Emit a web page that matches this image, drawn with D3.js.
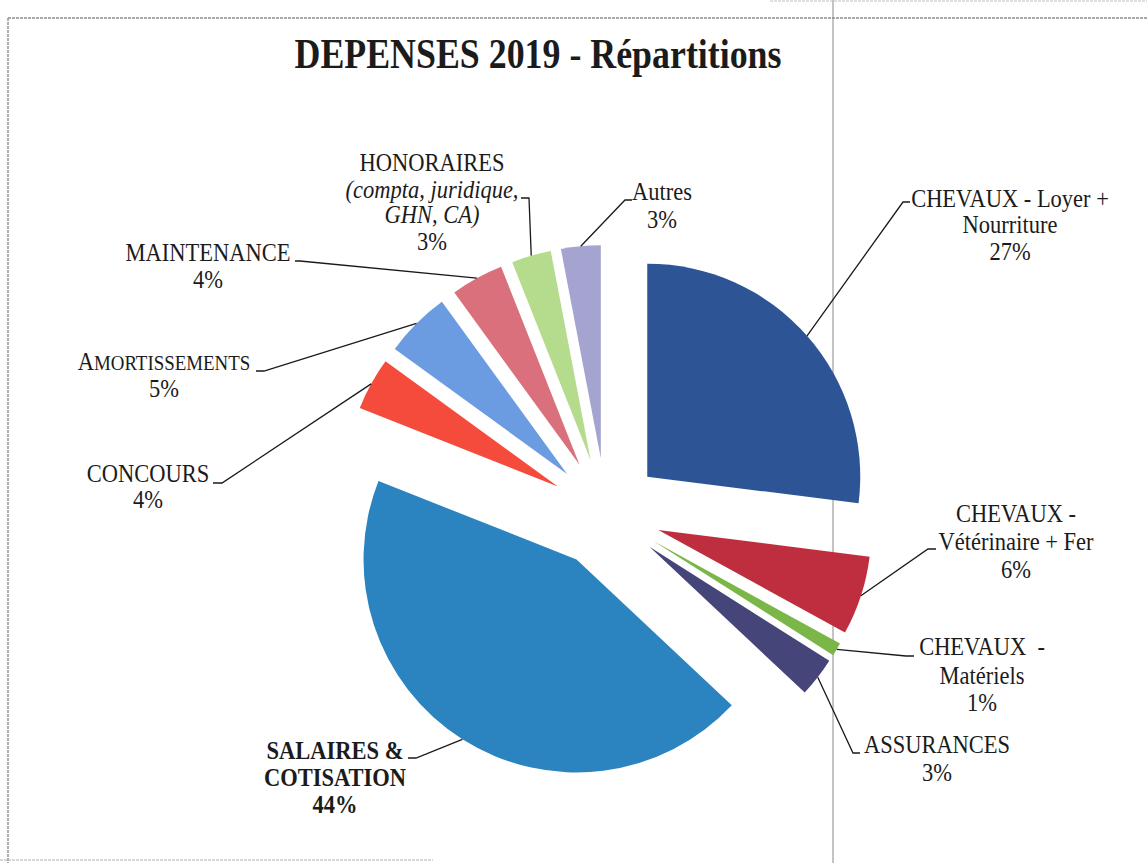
<!DOCTYPE html>
<html>
<head>
<meta charset="utf-8">
<script src="https://cdn.jsdelivr.net/npm/d3@7"></script>
<style>
  html, body { margin: 0; padding: 0; background: #fff; }
  svg { display: block; }
  text { white-space: pre; }
</style>
</head>
<body>
<svg id="chart" width="1147" height="863"></svg>
<script>
// ---- data ----
const categories = [
  "CHEVAUX - Loyer + Nourriture",
  "CHEVAUX - Vétérinaire + Fer",
  "CHEVAUX - Matériels",
  "ASSURANCES",
  "SALAIRES & COTISATION",
  "CONCOURS",
  "AMORTISSEMENTS",
  "MAINTENANCE",
  "HONORAIRES (compta, juridique, GHN, CA)",
  "Autres"
];
const values = [27, 6, 1, 3, 44, 4, 5, 4, 3, 3];
const percentLabels = ["27%", "6%", "1%", "3%", "44%", "4%", "5%", "4%", "3%", "3%"];
const colors = ["#2d5596", "#bf2e3e", "#7ab648", "#46457a", "#2b84c0",
                "#f44b3c", "#6b9be0", "#d9707c", "#b5dc8d", "#a5a3cf"];

// ---- layout (label text lines, positions) ----
const labelLines = [
  [{t:"CHEVAUX - Loyer +"}, {t:"Nourriture"}],
  [{t:"CHEVAUX -"}, {t:"Vétérinaire + Fer"}],
  [{t:"CHEVAUX  -"}, {t:"Matériels"}],
  [{t:"ASSURANCES"}],
  [{t:"SALAIRES &", b:true}, {t:"COTISATION", b:true}],
  [{t:"CONCOURS"}],
  [{t:"AMORTISSEMENTS", sc:true}],
  [{t:"MAINTENANCE"}],
  [{t:"HONORAIRES"}, {t:"(compta, juridique,", i:true}, {t:"GHN, CA)", i:true}],
  [{t:"Autres"}]
];
const labelPos = [
  {cx:1010, ys:[207, 233, 260], elbow:[903,202], end:[910,202]},
  {cx:1016, ys:[522, 550, 578], elbow:[928,549], end:[936,549]},
  {cx:982,  ys:[655, 684, 711], elbow:[906,656], end:[914,656]},
  {cx:937,  ys:[753, 781],      elbow:[853,753], end:[860,753]},
  {cx:335,  ys:[759, 786, 813], elbow:[416,758], end:[408,758]},
  {cx:148,  ys:[482, 508],      elbow:[222,483], end:[213,483]},
  {cx:164,  ys:[370, 397],      elbow:[264,371], end:[256,371]},
  {cx:208,  ys:[261, 288],      elbow:[300,261], end:[295,261]},
  {cx:432,  ys:[171, 198, 223, 250], elbow:[529,198], end:[521,198]},
  {cx:662,  ys:[200, 228],      elbow:[625,200], end:[632,200]}
];

const W = 1147, H = 863;
const cx = 606, cy = 513, R = 213, explode = 55;

const svg = d3.select("#chart");

// frame / scan lines
const frame = svg.append("g");
frame.append("line").attr("x1", 8).attr("y1", 18).attr("x2", W).attr("y2", 18)
  .attr("stroke", "#8d8d8d").attr("stroke-width", 1.4).attr("stroke-dasharray", "3,1");
frame.append("line").attr("x1", 8).attr("y1", 18).attr("x2", 8).attr("y2", H)
  .attr("stroke", "#8d8d8d").attr("stroke-width", 1.4).attr("stroke-dasharray", "3,1");
frame.append("line").attr("x1", 833).attr("y1", 0).attr("x2", 833).attr("y2", H)
  .attr("stroke", "#8a8a8a").attr("stroke-width", 1);
frame.append("line").attr("x1", 0).attr("y1", 860).attr("x2", 433).attr("y2", 860)
  .attr("stroke", "#b0b0b0").attr("stroke-width", 1.2).attr("stroke-dasharray", "3,1");
frame.append("line").attr("x1", 770).attr("y1", 1).attr("x2", W).attr("y2", 1)
  .attr("stroke", "#c0c0c0").attr("stroke-width", 1).attr("stroke-dasharray", "3,1");

// title
svg.append("text")
  .attr("x", 538).attr("y", 68)
  .attr("text-anchor", "middle")
  .attr("font-family", "'Liberation Serif', 'Times New Roman', serif")
  .attr("font-weight", "bold")
  .attr("font-size", 42)
  .attr("textLength", 487)
  .attr("lengthAdjust", "spacingAndGlyphs")
  .attr("fill", "#1b1b1b")
  .text("DEPENSES 2019 - Répartitions");

// pie
const pie = d3.pie().sort(null).value(d => d).startAngle(0).endAngle(2 * Math.PI);
const arcs = pie(values);
const arc = d3.arc().innerRadius(0).outerRadius(R);

const g = svg.append("g").attr("transform", `translate(${cx},${cy})`);

function offset(d) {
  const mid = (d.startAngle + d.endAngle) / 2;
  return [Math.sin(mid) * explode, -Math.cos(mid) * explode];
}

g.selectAll("path.slice")
  .data(arcs)
  .join("path")
  .attr("class", "slice")
  .attr("d", arc)
  .attr("fill", (d, i) => colors[i])
  .attr("transform", d => { const o = offset(d); return `translate(${o[0]},${o[1]})`; });

// leader lines
arcs.forEach((d, i) => {
  const mid = (d.startAngle + d.endAngle) / 2;
  const o = offset(d);
  const sx = cx + o[0] + Math.sin(mid) * R;
  const sy = cy + o[1] - Math.cos(mid) * R;
  const p = labelPos[i];
  svg.append("polyline")
    .attr("points", `${sx},${sy} ${p.elbow[0]},${p.elbow[1]} ${p.end[0]},${p.end[1]}`)
    .attr("fill", "none")
    .attr("stroke", "#1a1a1a")
    .attr("stroke-width", 1.3);
});

// labels
const fontFam = "'Liberation Serif', 'Times New Roman', serif";
arcs.forEach((d, i) => {
  const p = labelPos[i];
  const lines = labelLines[i].concat([{t: percentLabels[i], b: labelLines[i][0].b}]);
  lines.forEach((ln, k) => {
    const t = svg.append("text")
      .attr("transform", `translate(${p.cx},${p.ys[k]}) scale(0.9,1)`)
      .attr("text-anchor", "middle")
      .attr("font-family", fontFam)
      .attr("font-size", 25)
      .attr("font-weight", ln.b ? "bold" : "normal")
      .attr("font-style", ln.i ? "italic" : "normal")
      .attr("fill", "#1b1b1b");
    if (ln.sc) {
      t.append("tspan").text(ln.t.slice(0, 1));
      t.append("tspan").attr("font-size", 21).text(ln.t.slice(1));
    } else {
      t.text(ln.t);
    }
  });
});
</script>
</body>
</html>
